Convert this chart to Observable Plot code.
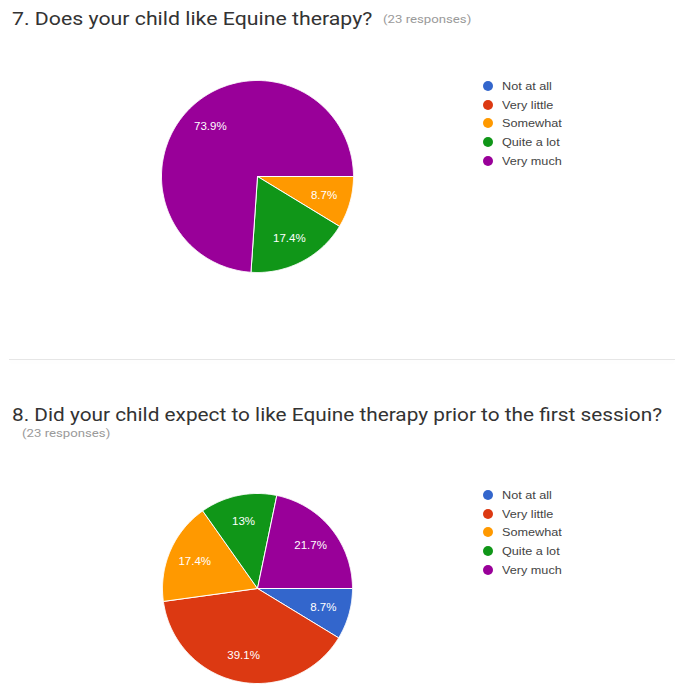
<!DOCTYPE html>
<html>
<head>
<meta charset="utf-8">
<script src="https://cdn.jsdelivr.net/npm/d3@7"></script>
<script src="https://cdn.jsdelivr.net/npm/@observablehq/plot@0.6"></script>
<style>
  html, body { margin: 0; padding: 0; background: #fff; }
  body { width: 675px; height: 685px; overflow: hidden; position: relative; font-family: Roboto, "Liberation Sans", sans-serif; }
  .title { position: absolute; left: 12px; font-size: 19px; color: #333; white-space: nowrap; transform: scaleX(1.12); transform-origin: 0 0; }
  .resp { position: absolute; font-size: 11px; color: #9a9a9a; white-space: nowrap; transform: scaleX(1.2); transform-origin: 0 0; }
  .sep { position: absolute; left: 9px; right: 0; top: 359px; height: 1px; background: #e6e6e6; box-shadow: 0 2px 4px rgba(0,0,0,0.04); }
  .chart { position: absolute; left: 0; }
  .legend { position: absolute; left: 483px; font-family: "Liberation Sans", Arial, sans-serif; font-size: 11px; color: #444; }
  .legend .item { display: flex; align-items: center; height: 18.6px; }
  .legend .sw { width: 10px; height: 10px; border-radius: 50%; margin-right: 9px; flex: none; }
  .legend .tx { display: inline-block; transform: scaleX(1.15); transform-origin: 0 50%; }
</style>
</head>
<body>
<div class="title" style="top:7px">7. Does your child like Equine therapy?</div>
<div class="resp" style="top:13px;left:383px">(23 responses)</div>
<div class="sep"></div>
<div class="title" style="top:403px;transform:scaleX(1.095)">8. Did your child expect to like Equine therapy prior to the first session?</div>
<div class="resp" style="top:427px;left:22px">(23 responses)</div>
<div id="c1" class="chart" style="top:0px"></div>
<div id="c2" class="chart" style="top:460px"></div>
<div id="l1" class="legend" style="top:77px"></div>
<div id="l2" class="legend" style="top:486px"></div>
<script>
const categories = ["Not at all", "Very little", "Somewhat", "Quite a lot", "Very much"];
const colors = ["#3366cc", "#dc3912", "#ff9900", "#109618", "#990099"];
const q7Counts = [0, 0, 2, 4, 17];
const q8Counts = [2, 9, 4, 3, 5];

function pieChart(counts, opts) {
  const total = d3.sum(counts);
  const rows = categories.map((cat, i) => ({cat, value: counts[i]})).filter(d => d.value > 0);
  const arcs = d3.pie().sort(null).value(d => d.value)
    .startAngle(Math.PI / 2).endAngle(Math.PI / 2 + 2 * Math.PI)(rows);
  const poly = [];
  const labels = [];
  for (const a of arcs) {
    const cat = a.data.cat;
    poly.push({cat, x: 0, y: 0});
    const n = Math.max(2, Math.ceil((a.endAngle - a.startAngle) / 0.01));
    for (let k = 0; k <= n; k++) {
      const t = a.startAngle + (a.endAngle - a.startAngle) * k / n;
      poly.push({cat, x: Math.sin(t), y: Math.cos(t)});
    }
    poly.push({cat, x: 0, y: 0});
    const m = (a.startAngle + a.endAngle) / 2;
    const pct = +(a.data.value / total * 100).toFixed(1);
    labels.push({x: 0.72 * Math.sin(m), y: 0.72 * Math.cos(m), text: pct + "%"});
  }
  const {cx, cy, r, height} = opts;
  return Plot.plot({
    width: 675,
    height,
    margin: 0,
    x: {type: "linear", domain: [-1, 1], range: [cx - r, cx + r], axis: null},
    y: {type: "linear", domain: [-1, 1], range: [cy + r, cy - r], axis: null},
    color: {domain: categories, range: colors},
    style: {background: "transparent", overflow: "visible"},
    marks: [
      Plot.line(poly, {x: "x", y: "y", z: "cat", fill: "cat", stroke: "white", strokeWidth: 1, strokeLinejoin: "round", curve: "linear"}),
      Plot.text(labels, {x: "x", y: "y", text: "text", fill: "white", fontSize: 11.5, fontFamily: "Liberation Sans, Arial, sans-serif"})
    ]
  });
}

function legend(el) {
  categories.forEach((c, i) => {
    const item = document.createElement("div");
    item.className = "item";
    const sw = document.createElement("div");
    sw.className = "sw";
    sw.style.background = colors[i];
    const t = document.createElement("span");
    t.className = "tx";
    t.textContent = c;
    item.appendChild(sw);
    item.appendChild(t);
    el.appendChild(item);
  });
}

document.getElementById("c1").appendChild(pieChart(q7Counts, {cx: 257, cy: 176, r: 96, height: 350}));
document.getElementById("c2").appendChild(pieChart(q8Counts, {cx: 257, cy: 128, r: 95, height: 225}));
legend(document.getElementById("l1"));
legend(document.getElementById("l2"));
</script>
</body>
</html>
